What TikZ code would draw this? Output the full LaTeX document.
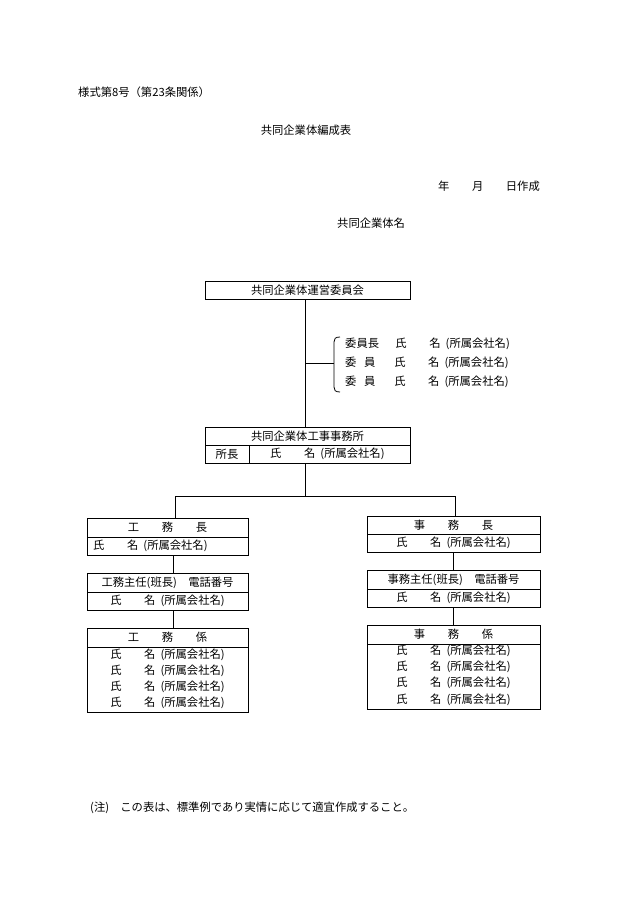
\documentclass[tikz,border=0pt]{standalone}
\usepackage{fontspec}
\setmainfont{Noto Sans CJK JP}
\begin{document}
\begin{tikzpicture}[x=1pt,y=-1pt,
  bx/.style={draw,line width=0.8pt},
  ln/.style={line width=0.8pt},
  t/.style={inner sep=0pt,font=\fontsize{11.3}{12}\selectfont}]
\useasboundingbox (0,0) rectangle (630,915);
\node[t,anchor=west] (h1) at (78,92) {様式第8号（第23条関係）};
\node[t] (h2) at (306,130) {共同企業体編成表};
\node[t,anchor=east] (h3) at (540,186) {年\quad\quad 月\quad\quad 日作成};
\node[t,anchor=west] (h4) at (337,223) {共同企業体名};
% committee
\draw[bx] (205,281) rectangle (410,299);
\node[t] (c1) at (307.5,290) {共同企業体運営委員会};
\draw[bx] (205,427) rectangle (410,463);
\draw[ln] (205,445) -- (410,445) (249,445) -- (249,463);
\node[t] (o1) at (307.5,436) {共同企業体工事事務所};
\node[t] (o2) at (227,454) {所長};
\node[t,anchor=west] (o3) at (270,454) {氏\quad\quad 名\ \ (所属会社名)};
\draw[ln] (305,299) -- (305,427);
\draw[ln] (305,363) -- (334,363);
\draw[ln] (340,337) .. controls (335,337) and (334,339) .. (334,342) -- (334,387) .. controls (334,390) and (335,392) .. (340,392);
\node[t,anchor=west] at (345,344) {委員長\quad\ \ 氏\quad\quad 名\ \ (所属会社名)};
\node[t,anchor=west] at (345,363) {委\ \ \ 員\quad\ \ \ 氏\quad\quad 名\ \ (所属会社名)};
\node[t,anchor=west] at (345,382) {委\ \ \ 員\quad\ \ \ 氏\quad\quad 名\ \ (所属会社名)};
\draw[ln] (305,463) -- (305,496);
\draw[ln] (175,518) -- (175,496) -- (455,496) -- (455,516);
% left column
\draw[bx] (87,518) rectangle (248,555); \draw[ln] (87,537)--(248,537);
\node[t] at (167.5,527.5) {工\quad\quad 務\quad\quad 長};
\node[t,anchor=west] at (93,546) {氏\quad\quad 名\ \ (所属会社名)};
\draw[ln] (173,555)--(173,573);
\draw[bx] (87,573) rectangle (248,610); \draw[ln] (87,592)--(248,592);
\node[t] at (167.5,582.5) {工務主任(班長)\quad 電話番号};
\node[t] at (167.5,601) {氏\quad\quad 名\ \ (所属会社名)};
\draw[ln] (173,610)--(173,628);
\draw[bx] (87,628) rectangle (248,712); \draw[ln] (87,647)--(248,647);
\node[t] at (167.5,637.5) {工\quad\quad 務\quad\quad 係};
\foreach \y in {655,671,687,703} \node[t] at (167.5,\y) {氏\quad\quad 名\ \ (所属会社名)};
% right column
\draw[bx] (367,516) rectangle (540,552); \draw[ln] (367,534)--(540,534);
\node[t] at (453.5,525) {事\quad\quad 務\quad\quad 長};
\node[t] at (453.5,543) {氏\quad\quad 名\ \ (所属会社名)};
\draw[ln] (453,552)--(453,570);
\draw[bx] (367,570) rectangle (540,607); \draw[ln] (367,589)--(540,589);
\node[t] at (453.5,579.5) {事務主任(班長)\quad 電話番号};
\node[t] at (453.5,598) {氏\quad\quad 名\ \ (所属会社名)};
\draw[ln] (453,607)--(453,625);
\draw[bx] (367,625) rectangle (540,709); \draw[ln] (367,644)--(540,644);
\node[t] at (453.5,634.5) {事\quad\quad 務\quad\quad 係};
\foreach \y in {651,667,683,700} \node[t] at (453.5,\y) {氏\quad\quad 名\ \ (所属会社名)};
\node[t,anchor=west] (f) at (90,808) {(注)\quad この表は、標準例であり実情に応じて適宜作成すること。};
\end{tikzpicture}
\end{document}
